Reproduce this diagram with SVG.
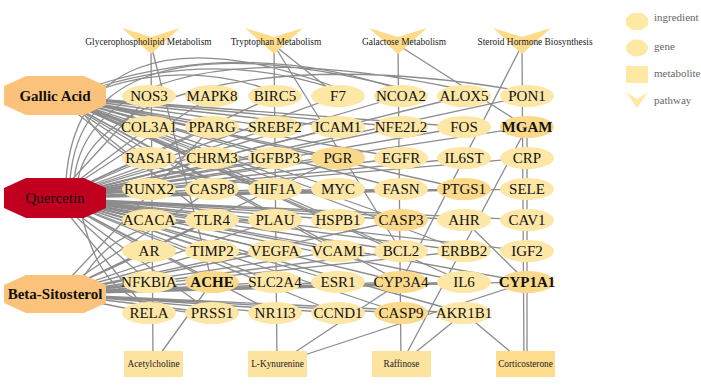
<svg xmlns="http://www.w3.org/2000/svg" width="701" height="392" viewBox="0 0 701 392">
<style>
.e{stroke:#8c8c8c;stroke-width:1.3;fill:none}
.g{fill:#FDE7A6}
.g2{fill:#FBD98B}
text{font-family:"Liberation Serif","Times New Roman","DejaVu Serif",serif}
.gt{font-size:15px;text-anchor:middle;fill:#111}
.b{font-weight:bold}
.it{font-size:15px;text-anchor:middle;fill:#111}
.pw{fill:#FDDB8B}
.pt{font-size:9.4px;text-anchor:middle;fill:#222}
.mt{font-size:9.3px;text-anchor:middle;fill:#222}
.m{fill:#FDE3A0}
.lt{font-size:11px;fill:#666}
</style>
<g id="edges">
<path class="e" d="M55 198L149 96M55 198L212 96M55 198L275 96M55 198L338 96M55 198L401 96M55 198L464 96M55 198L527 96"/>
<path class="e" d="M55 198L149 127M55 198L212 127M55 198L275 127M55 198L338 127M55 198L401 127M55 198L464 127M55 198L527 127"/>
<path class="e" d="M55 198L149 158M55 198L212 158M55 198L275 158M55 198L338 158M55 198L401 158M55 198L464 158M55 198L527 158"/>
<path class="e" d="M55 198L149 189M55 198L212 189M55 198L275 189M55 198L338 189M55 198L401 189M55 198L464 189M55 198L527 189"/>
<path class="e" d="M55 198L149 220M55 198L212 220M55 198L275 220M55 198L338 220M55 198L401 220M55 198L464 220M55 198L527 220"/>
<path class="e" d="M55 198L149 251M55 198L212 251M55 198L275 251M55 198L338 251M55 198L401 251M55 198L464 251M55 198L527 251"/>
<path class="e" d="M55 198L149 282M55 198L212 282M55 198L275 282M55 198L338 282M55 198L401 282M55 198L464 282M55 198L527 282"/>
<path class="e" d="M55 198L149 313M55 198L212 313M55 198L275 313M55 198L338 313M55 198L401 313M55 198L464 313"/>
<path class="e" d="M55 96L149 127M55 96L212 127M55 96L275 127M55 96L338 127M55 96L401 127M55 96L464 127M55 96L149 158M55 96L212 158M55 96L275 158M55 96L338 158M55 96L401 158M55 96L212 189M55 96L275 189M55 96L338 189M55 96L401 189M55 96L464 189M55 96L212 220M55 96L338 220M55 96L401 220M55 96L338 251M55 96L401 251M55 96L464 251M55 96L464 282M55 96L401 282"/>
<path class="e" d="M55 294L212 282M55 294L275 282M55 294L338 282M55 294L401 282M55 294L464 282M55 294L527 282M55 294L149 313M55 294L212 313M55 294L275 313M55 294L338 313M55 294L401 313M55 294L464 313M55 294L149 251M55 294L212 251M55 294L275 251M55 294L338 251M55 294L401 251M55 294L464 251M55 294L212 220M55 294L275 220M55 294L401 220M55 294L212 189M55 294L338 158M55 294L212 127"/>
<path class="e" d="M100 84Q250 38 401 90M102 86Q220 50 338 90M104 88Q190 60 275 92"/>
<path class="e" d="M70 180C78 80 170 30 401 88M74 180C84 90 200 34 464 90M66 180C74 70 160 22 338 88M78 180C90 100 260 44 527 92"/>
<path class="e" d="M82 216C100 290 130 310 212 314M84 276C115 230 150 215 275 222M84 114C115 160 150 175 275 186"/>
<path class="e" d="M151 45L153 364M151 45L212 282M274 45L277 364M274 45L338 96M274 45L401 251M398 45L401 364M398 45L527 127M522 45L524 364M527 127L527 364M522 45L401 282M527 127L401 364M464 313L401 364M464 313L525 364M527 282L277 364M401 282L277 364M212 282L153 364M464 220L527 282"/>
</g>
<g id="pathway-glycerophospholipid"><polygon class="pw" points="122,28 151,37 180,28 151,54"/><text class="pt" x="148.5" y="45">Glycerophospholipid Metabolism</text></g>
<g id="pathway-tryptophan"><polygon class="pw" points="245,28 274,37 303,28 274,54"/><text class="pt" x="276" y="45">Tryptophan Metabolism</text></g>
<g id="pathway-galactose"><polygon class="pw" points="369,28 398,37 427,28 398,54"/><text class="pt" x="404" y="45">Galactose Metabolism</text></g>
<g id="pathway-steroid"><polygon class="pw" points="493,28 522,37 551,28 522,54"/><text class="pt" x="535" y="45">Steroid Hormone Biosynthesis</text></g>
<g id="ing-gallic"><polygon fill="#FAC27A" points="26,76 84,76 106,86 106,105 84,115 26,115 4,105 4,86"/><text class="it b" x="55" y="101">Gallic Acid</text></g>
<g id="ing-quercetin"><polygon fill="#C0001E" points="26,178 84,178 106,188 106,208 84,218 26,218 4,208 4,188"/><text class="it" x="55" y="203">Quercetin</text></g>
<g id="ing-beta"><polygon fill="#FAC27A" points="26,275 84,275 106,285 106,303 84,313 26,313 4,303 4,285"/><text class="it b" x="55" y="299">Beta-Sitosterol</text></g>
<g id="NOS3"><ellipse class="g" cx="149" cy="96" rx="27" ry="11"/><text class="gt" x="149" y="101">NOS3</text></g>
<g id="MAPK8"><ellipse class="g" cx="212" cy="96" rx="27" ry="11"/><text class="gt" x="212" y="101">MAPK8</text></g>
<g id="BIRC5"><ellipse class="g" cx="275" cy="96" rx="27" ry="11"/><text class="gt" x="275" y="101">BIRC5</text></g>
<g id="F7"><ellipse class="g" cx="338" cy="96" rx="27" ry="11"/><text class="gt" x="338" y="101">F7</text></g>
<g id="NCOA2"><ellipse class="g" cx="401" cy="96" rx="27" ry="11"/><text class="gt" x="401" y="101">NCOA2</text></g>
<g id="ALOX5"><ellipse class="g" cx="464" cy="96" rx="27" ry="11"/><text class="gt" x="464" y="101">ALOX5</text></g>
<g id="PON1"><ellipse class="g" cx="527" cy="96" rx="27" ry="11"/><text class="gt" x="527" y="101">PON1</text></g>
<g id="COL3A1"><ellipse class="g" cx="149" cy="127" rx="27" ry="11"/><text class="gt" x="149" y="132">COL3A1</text></g>
<g id="PPARG"><ellipse class="g" cx="212" cy="127" rx="27" ry="11"/><text class="gt" x="212" y="132">PPARG</text></g>
<g id="SREBF2"><ellipse class="g" cx="275" cy="127" rx="27" ry="11"/><text class="gt" x="275" y="132">SREBF2</text></g>
<g id="ICAM1"><ellipse class="g" cx="338" cy="127" rx="27" ry="11"/><text class="gt" x="338" y="132">ICAM1</text></g>
<g id="NFE2L2"><ellipse class="g" cx="401" cy="127" rx="27" ry="11"/><text class="gt" x="401" y="132">NFE2L2</text></g>
<g id="FOS"><ellipse class="g" cx="464" cy="127" rx="27" ry="11"/><text class="gt" x="464" y="132">FOS</text></g>
<g id="MGAM"><ellipse class="g2" cx="527" cy="127" rx="27" ry="11"/><text class="gt b" x="527" y="132">MGAM</text></g>
<g id="RASA1"><ellipse class="g" cx="149" cy="158" rx="27" ry="11"/><text class="gt" x="149" y="163">RASA1</text></g>
<g id="CHRM3"><ellipse class="g" cx="212" cy="158" rx="27" ry="11"/><text class="gt" x="212" y="163">CHRM3</text></g>
<g id="IGFBP3"><ellipse class="g" cx="275" cy="158" rx="27" ry="11"/><text class="gt" x="275" y="163">IGFBP3</text></g>
<g id="PGR"><ellipse class="g2" cx="338" cy="158" rx="27" ry="11"/><text class="gt" x="338" y="163">PGR</text></g>
<g id="EGFR"><ellipse class="g" cx="401" cy="158" rx="27" ry="11"/><text class="gt" x="401" y="163">EGFR</text></g>
<g id="IL6ST"><ellipse class="g" cx="464" cy="158" rx="27" ry="11"/><text class="gt" x="464" y="163">IL6ST</text></g>
<g id="CRP"><ellipse class="g" cx="527" cy="158" rx="27" ry="11"/><text class="gt" x="527" y="163">CRP</text></g>
<g id="RUNX2"><ellipse class="g" cx="149" cy="189" rx="27" ry="11"/><text class="gt" x="149" y="194">RUNX2</text></g>
<g id="CASP8"><ellipse class="g" cx="212" cy="189" rx="27" ry="11"/><text class="gt" x="212" y="194">CASP8</text></g>
<g id="HIF1A"><ellipse class="g" cx="275" cy="189" rx="27" ry="11"/><text class="gt" x="275" y="194">HIF1A</text></g>
<g id="MYC"><ellipse class="g" cx="338" cy="189" rx="27" ry="11"/><text class="gt" x="338" y="194">MYC</text></g>
<g id="FASN"><ellipse class="g" cx="401" cy="189" rx="27" ry="11"/><text class="gt" x="401" y="194">FASN</text></g>
<g id="PTGS1"><ellipse class="g2" cx="464" cy="189" rx="27" ry="11"/><text class="gt" x="464" y="194">PTGS1</text></g>
<g id="SELE"><ellipse class="g" cx="527" cy="189" rx="27" ry="11"/><text class="gt" x="527" y="194">SELE</text></g>
<g id="ACACA"><ellipse class="g" cx="149" cy="220" rx="27" ry="11"/><text class="gt" x="149" y="225">ACACA</text></g>
<g id="TLR4"><ellipse class="g" cx="212" cy="220" rx="27" ry="11"/><text class="gt" x="212" y="225">TLR4</text></g>
<g id="PLAU"><ellipse class="g" cx="275" cy="220" rx="27" ry="11"/><text class="gt" x="275" y="225">PLAU</text></g>
<g id="HSPB1"><ellipse class="g" cx="338" cy="220" rx="27" ry="11"/><text class="gt" x="338" y="225">HSPB1</text></g>
<g id="CASP3"><ellipse class="g2" cx="401" cy="220" rx="27" ry="11"/><text class="gt" x="401" y="225">CASP3</text></g>
<g id="AHR"><ellipse class="g" cx="464" cy="220" rx="27" ry="11"/><text class="gt" x="464" y="225">AHR</text></g>
<g id="CAV1"><ellipse class="g" cx="527" cy="220" rx="27" ry="11"/><text class="gt" x="527" y="225">CAV1</text></g>
<g id="AR"><ellipse class="g" cx="149" cy="251" rx="27" ry="11"/><text class="gt" x="149" y="256">AR</text></g>
<g id="TIMP2"><ellipse class="g" cx="212" cy="251" rx="27" ry="11"/><text class="gt" x="212" y="256">TIMP2</text></g>
<g id="VEGFA"><ellipse class="g" cx="275" cy="251" rx="27" ry="11"/><text class="gt" x="275" y="256">VEGFA</text></g>
<g id="VCAM1"><ellipse class="g" cx="338" cy="251" rx="27" ry="11"/><text class="gt" x="338" y="256">VCAM1</text></g>
<g id="BCL2"><ellipse class="g" cx="401" cy="251" rx="27" ry="11"/><text class="gt" x="401" y="256">BCL2</text></g>
<g id="ERBB2"><ellipse class="g" cx="464" cy="251" rx="27" ry="11"/><text class="gt" x="464" y="256">ERBB2</text></g>
<g id="IGF2"><ellipse class="g" cx="527" cy="251" rx="27" ry="11"/><text class="gt" x="527" y="256">IGF2</text></g>
<g id="NFKBIA"><ellipse class="g" cx="149" cy="282" rx="27" ry="11"/><text class="gt" x="149" y="287">NFKBIA</text></g>
<g id="ACHE"><ellipse class="g2" cx="212" cy="282" rx="27" ry="11"/><text class="gt b" x="212" y="287">ACHE</text></g>
<g id="SLC2A4"><ellipse class="g" cx="275" cy="282" rx="27" ry="11"/><text class="gt" x="275" y="287">SLC2A4</text></g>
<g id="ESR1"><ellipse class="g" cx="338" cy="282" rx="27" ry="11"/><text class="gt" x="338" y="287">ESR1</text></g>
<g id="CYP3A4"><ellipse class="g2" cx="401" cy="282" rx="27" ry="11"/><text class="gt" x="401" y="287">CYP3A4</text></g>
<g id="IL6"><ellipse class="g" cx="464" cy="282" rx="27" ry="11"/><text class="gt" x="464" y="287">IL6</text></g>
<g id="CYP1A1"><ellipse class="g2" cx="527" cy="282" rx="27" ry="11"/><text class="gt b" x="527" y="287">CYP1A1</text></g>
<g id="RELA"><ellipse class="g" cx="149" cy="313" rx="27" ry="11"/><text class="gt" x="149" y="318">RELA</text></g>
<g id="PRSS1"><ellipse class="g" cx="212" cy="313" rx="27" ry="11"/><text class="gt" x="212" y="318">PRSS1</text></g>
<g id="NR1I3"><ellipse class="g" cx="275" cy="313" rx="27" ry="11"/><text class="gt" x="275" y="318">NR1I3</text></g>
<g id="CCND1"><ellipse class="g" cx="338" cy="313" rx="27" ry="11"/><text class="gt" x="338" y="318">CCND1</text></g>
<g id="CASP9"><ellipse class="g2" cx="401" cy="313" rx="27" ry="11"/><text class="gt" x="401" y="318">CASP9</text></g>
<g id="AKR1B1"><ellipse class="g" cx="464" cy="313" rx="27" ry="11"/><text class="gt" x="464" y="318">AKR1B1</text></g>
<g id="met-acetylcholine"><rect class="m" x="124" y="351" width="59" height="26"/><text class="mt" x="153.5" y="367">Acetylcholine</text></g>
<g id="met-kynurenine"><rect class="m" x="248" y="351" width="59" height="26"/><text class="mt" x="277.5" y="367">L-Kynurenine</text></g>
<g id="met-raffinose"><rect class="m" x="372" y="351" width="59" height="26"/><text class="mt" x="401.5" y="367">Raffinose</text></g>
<g id="met-corticosterone"><rect fill="#FDDC8D" x="496" y="351" width="59" height="26"/><text class="mt" x="525.5" y="367">Corticosterone</text></g>
<g id="legend">
<polygon fill="#FDE9A3" points="632,13 642,13 648,18 648,25 642,30 632,30 626,25 626,18"/><text class="lt" x="654" y="21">ingredient</text>
<ellipse fill="#FDE9A3" cx="637" cy="48" rx="11" ry="8.5"/><text class="lt" x="654" y="50">gene</text>
<rect fill="#FDE9A3" x="626" y="66" width="22" height="17"/><text class="lt" x="654" y="77">metabolite</text>
<polygon fill="#FDE9A3" points="626,92 637,99 648,92 637,108"/><text class="lt" x="654" y="104">pathway</text>
</g>
</svg>
